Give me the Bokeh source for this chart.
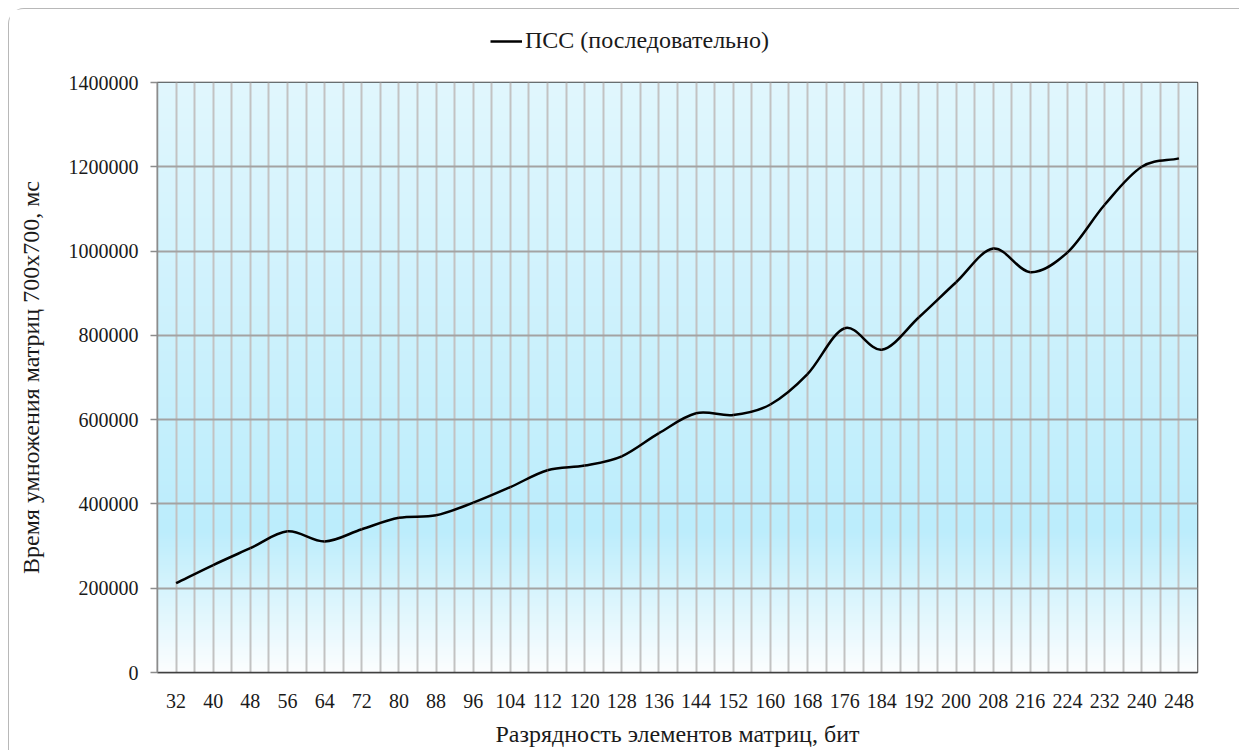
import numpy as np
from bokeh.plotting import figure
from bokeh.layouts import column
from bokeh.models import Range1d, FixedTicker, Legend, LegendItem, BasicTickFormatter
from bokeh.embed import file_html
from bokeh.resources import INLINE

# ---- data ----
bits = [32, 40, 48, 56, 64, 72, 80, 88, 96, 104, 112, 120, 128, 136,
        144, 152, 160, 168, 176, 184, 192, 200, 208, 216, 224, 232, 240, 248]
time_ms = [212000, 255000, 295000, 335000, 311000, 340000, 367000, 373000,
           403000, 440000, 480000, 491000, 513000, 568000, 615000, 611000,
           636000, 708000, 817000, 766000, 843000, 926000, 1006000, 950000,
           997000, 1110000, 1200000, 1220000]
y_ticks = [0, 200000, 400000, 600000, 800000, 1000000, 1200000, 1400000]
series_name = "ПСС (последовательно)"
x_title = "Разрядность элементов матриц, бит"
y_title = "Время умножения матриц 700x700, мс"

FONT = "Liberation Serif"
n = len(bits)
xs = np.arange(n, dtype=float)
W = 1230
TOP_H = 59

p = figure(width=W, height=682, output_backend="svg", toolbar_location=None,
           x_range=Range1d(-0.5, n - 0.5), y_range=Range1d(0, 1400000),
           min_border_left=148, min_border_right=W - 1188, min_border_top=14,
           min_border_bottom=78)
p.background_fill_color = "white"
p.border_fill_color = "white"
p.outline_line_color = "#404040"
p.outline_line_width = 1.5

# gradient background (decoration)
H = 300
t = np.linspace(1, 0, H)  # row 0 = bottom
top = np.array([225, 247, 254.0])
mid = np.array([188, 237, 252.0])
bot = np.array([252, 254, 255.0])
cols = np.zeros((H, 3))
for i, tt in enumerate(t):
    if tt <= 0.76:
        f = tt / 0.76
        cols[i] = top + (mid - top) * f
    else:
        f = (tt - 0.76) / 0.24
        cols[i] = mid + (bot - mid) * f
img = np.zeros((H, 1), dtype=np.uint32)
view = img.view(dtype=np.uint8).reshape((H, 1, 4))
view[:, 0, 0] = cols[:, 0].astype(np.uint8)
view[:, 0, 1] = cols[:, 1].astype(np.uint8)
view[:, 0, 2] = cols[:, 2].astype(np.uint8)
view[:, 0, 3] = 255
r_img = p.image_rgba(image=[img], x=-0.5, y=0, dw=n, dh=1400000)
r_img.level = "image"

# axes
p.xaxis.ticker = FixedTicker(ticks=list(range(n)))
p.xaxis.major_label_overrides = {i: str(b) for i, b in enumerate(bits)}
p.xaxis.major_tick_line_color = None
p.xaxis.minor_tick_line_color = None
p.xaxis.axis_line_color = "#404040"
p.xaxis.axis_line_width = 1.5
p.xaxis.major_label_standoff = 15
p.xaxis.axis_label = x_title
p.xaxis.axis_label_standoff = 10

p.yaxis.ticker = FixedTicker(ticks=y_ticks)
p.yaxis.formatter = BasicTickFormatter(use_scientific=False)
p.yaxis.major_tick_out = 7
p.yaxis.major_tick_in = 0
p.yaxis.minor_tick_line_color = None
p.yaxis.major_tick_line_color = "#8c8c8c"
p.yaxis.major_tick_line_width = 1.5
p.yaxis.axis_line_color = "#8c8c8c"
p.yaxis.axis_line_width = 1.5
p.yaxis.major_label_standoff = 12
p.yaxis.axis_label = y_title
p.yaxis.axis_label_standoff = 22

for ax in (p.xaxis[0], p.yaxis[0]):
    ax.major_label_text_font = FONT
    ax.major_label_text_font_size = "20px"
    ax.major_label_text_color = "#1a1a1a"
    ax.axis_label_text_font = FONT
    ax.axis_label_text_font_size = "24px"
    ax.axis_label_text_font_style = "normal"
    ax.axis_label_text_color = "#1a1a1a"

# grids
p.xgrid.ticker = FixedTicker(ticks=list(np.arange(-0.5, n, 0.5)))
p.xgrid.grid_line_color = "#c2c2c2"
p.xgrid.grid_line_width = 2
p.ygrid.ticker = FixedTicker(ticks=y_ticks)
p.ygrid.grid_line_color = "#a3a3a3"
p.ygrid.grid_line_width = 2

# smoothed line (Catmull-Rom -> cubic Bezier, like a spreadsheet "smoothed line")
ys = np.array(time_ms, dtype=float)
P = np.stack([xs, ys], axis=1)
Pext = np.vstack([2 * P[0] - P[1], P, 2 * P[-1] - P[-2]])
x0, y0, x1, y1, cx0, cy0, cx1, cy1 = ([] for _ in range(8))
for i in range(n - 1):
    p0, p1, p2, p3 = Pext[i], Pext[i + 1], Pext[i + 2], Pext[i + 3]
    c1 = p1 + (p2 - p0) / 6.0
    c2 = p2 - (p3 - p1) / 6.0
    x0.append(p1[0]); y0.append(p1[1]); x1.append(p2[0]); y1.append(p2[1])
    cx0.append(c1[0]); cy0.append(c1[1]); cx1.append(c2[0]); cy1.append(c2[1])
r_line = p.bezier(x0=x0, y0=y0, x1=x1, y1=y1, cx0=cx0, cy0=cy0, cx1=cx1, cy1=cy1,
                  line_color="black", line_width=2.5)

# legend strip on top (same series, its view range is empty so only the key shows)
leg_fig = figure(width=W, height=TOP_H, output_backend="svg", toolbar_location=None,
                 x_range=Range1d(0, 1), y_range=Range1d(-2, -1),
                 x_axis_location=None, y_axis_location=None,
                 min_border=0, outline_line_color=None)
leg_fig.grid.visible = False
leg_fig.border_fill_color = "white"
leg_fig.background_fill_color = "white"
r_key = leg_fig.line(x=xs, y=time_ms, line_color="black", line_width=2.5)
legend = Legend(items=[LegendItem(label=series_name, renderers=[r_key])],
                orientation="horizontal", location=(333, 14),
                border_line_color=None, background_fill_alpha=0,
                label_text_font=FONT, label_text_font_size="24px",
                label_text_color="#1a1a1a", glyph_width=32, label_standoff=3,
                padding=0, margin=0)
leg_fig.add_layout(legend)

layout = column(leg_fig, p, spacing=0,
                styles={"margin-top": "8px", "margin-left": "8px",
                        "border-top": "1.5px solid #b8b8b8",
                        "border-left": "1.5px solid #b8b8b8",
                        "border-top-left-radius": "16px"})

open("out.html", "w").write(file_html(layout, INLINE))
